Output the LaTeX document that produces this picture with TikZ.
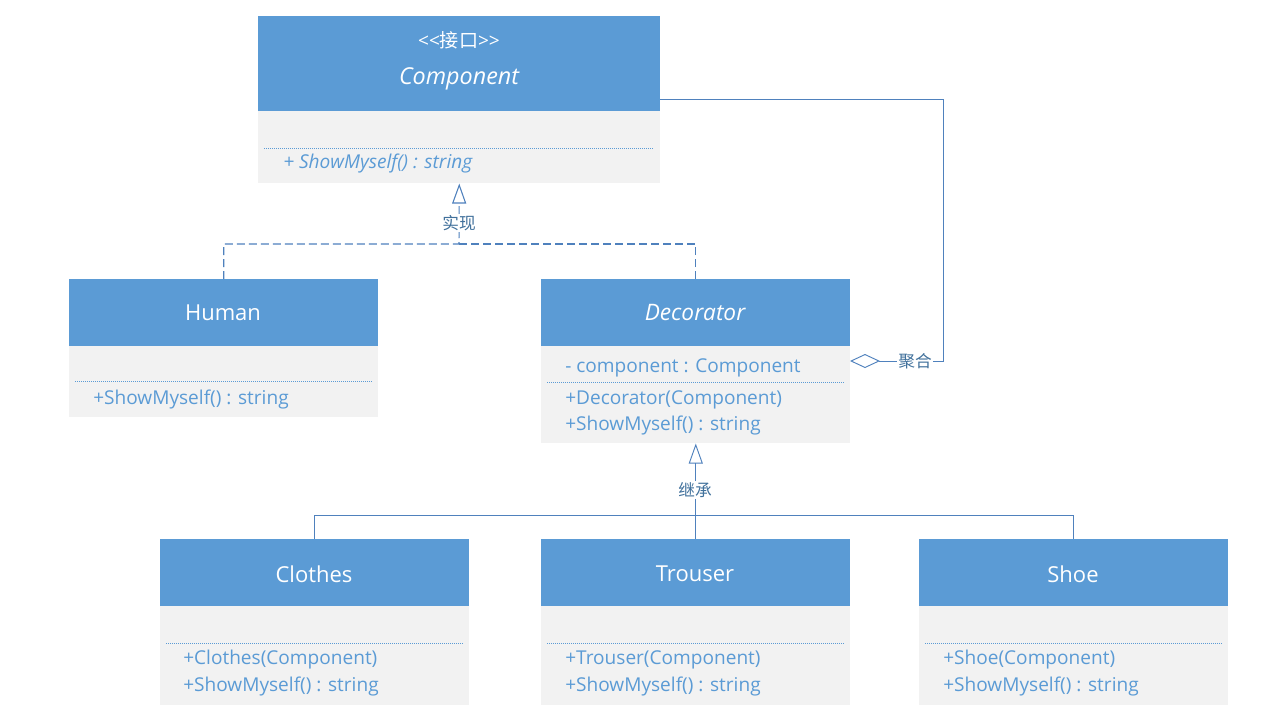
\documentclass[tikz,border=0pt]{standalone}
\usepackage{fontspec}
\setmainfont{Open Sans}
\newfontfamily\cjk{Noto Sans CJK SC}
\usetikzlibrary{arrows.meta}
\definecolor{hdr}{HTML}{5B9BD5}
\definecolor{bdy}{HTML}{F2F2F2}
\definecolor{ln}{HTML}{4F81BD}
\definecolor{lbl}{HTML}{41719C}
\tikzset{
  hdrbox/.style={fill=hdr, draw=none, text=white, anchor=north west, inner sep=0pt},
  bodybox/.style={fill=bdy, draw=none, anchor=north west, inner sep=0pt},
  htext/.style={text=white, inner sep=0pt, font=\fontsize{16.5}{19}\selectfont},
  mtext/.style={anchor=base west, inner sep=0pt, text=hdr, font=\fontsize{14.3}{17}\selectfont},
  dotline/.style={draw=hdr, densely dotted, line width=0.5pt},
  conn/.style={draw=ln, line width=0.7pt},
  dsh/.style={line width=0.8pt, dash pattern=on 6pt off 3pt},
  lab/.style={fill=white, text=lbl, inner sep=1pt, font=\cjk\fontsize{12.5}{14}\selectfont},
  inh/.style={-{Triangle[open, width=10.5pt, length=15pt]}},
}
\begin{document}
\begin{tikzpicture}[x=0.75pt,y=-0.75pt]
\useasboundingbox (0,0) rectangle (1263,726);
\fill[white] (0,0) rectangle (1263,726);

% Component
\node[hdrbox, minimum width=301.5pt, minimum height=71.25pt] (ch) at (258,16) {};
\node[bodybox, minimum width=301.5pt, minimum height=54pt] (cb) at (258,111) {};
\node[text=white, inner sep=0pt, font=\fontsize{14.3}{17}\selectfont] (cst) at (459,40) {{<}{<}{\cjk 接口}{>}{>}};
\node[htext, font=\fontsize{17.5}{20}\selectfont\itshape] (cnm) at (459,79) {Component};
\draw[dotline] (264,148) -- (654,148);
\node[mtext, font=\fontsize{14.3}{17}\selectfont\itshape] (ct1) at (283,168) {+ ShowMyself() : string};

% Human
\node[hdrbox, minimum width=231.75pt, minimum height=50.25pt] (hh) at (69,279) {};
\node[htext] (hnm) at (223,313) {Human};
\node[bodybox, minimum width=231.75pt, minimum height=53.25pt] (hb) at (69,346) {};
\draw[dotline] (75,381) -- (372,381);
\node[mtext] (ht1) at (93,404) {+ShowMyself() : string};

% Decorator
\node[hdrbox, minimum width=231.75pt, minimum height=50.25pt] (dh) at (541,279) {};
\node[htext, font=\fontsize{17}{20}\selectfont\itshape] (dnm) at (695,313) {Decorator};
\node[bodybox, minimum width=231.75pt, minimum height=72.75pt] (db) at (541,346) {};
\node[mtext] (dt0) at (565,372) {- component : Component};
\draw[dotline] (547,382) -- (844,382);
\node[mtext] (dt1) at (565,404) {+Decorator(Component)};
\node[mtext] (dt2) at (565,430) {+ShowMyself() : string};

% Clothes
\node[hdrbox, minimum width=231.75pt, minimum height=50.25pt] (clh) at (160,539) {};
\node[htext] (clnm) at (314,574) {Clothes};
\node[bodybox, minimum width=231.75pt, minimum height=74.25pt] (clb) at (160,606) {};
\draw[dotline] (166,643) -- (463,643);
\node[mtext] (clt1) at (183,664) {+Clothes(Component)};
\node[mtext] (clt2) at (183,691) {+ShowMyself() : string};

% Trouser
\node[hdrbox, minimum width=231.75pt, minimum height=50.25pt] (trh) at (541,539) {};
\node[htext] (trnm) at (695,574) {Trouser};
\node[bodybox, minimum width=231.75pt, minimum height=74.25pt] (trb) at (541,606) {};
\draw[dotline] (547,643) -- (844,643);
\node[mtext] (trt1) at (565,664) {+Trouser(Component)};
\node[mtext] (trt2) at (565,691) {+ShowMyself() : string};

% Shoe
\node[hdrbox, minimum width=231.75pt, minimum height=50.25pt] (shh) at (919,539) {};
\node[htext] (shnm) at (1073,574) {Shoe};
\node[bodybox, minimum width=231.75pt, minimum height=74.25pt] (shb) at (919,606) {};
\draw[dotline] (925,643) -- (1222,643);
\node[mtext] (sht1) at (943,664) {+Shoe(Component)};
\node[mtext] (sht2) at (943,691) {+ShowMyself() : string};

% realization
\coordinate (rj) at (459,244);
\draw[conn, dsh, inh] (hh.north) |- (rj) -- (cb.south);
\draw[conn, dsh] (dh.north) |- (rj);
\node[lab] (rl) at (459,223) {实现};

% inheritance
\coordinate (ij) at (695,515);
\draw[conn, inh] (trh.north) -- (db.south);
\draw[conn] (clh.north) |- (ij) -| (shh.north);
\node[lab] (il) at (695,490) {继承};

% aggregation
\coordinate (aS) at (850,361);
\coordinate (aC) at (943,361);
\coordinate (aE) at (660,99);
\draw[conn, {Diamond[open, width=10.5pt, length=22.5pt]}-] (aS) -- (aC) |- (aE);
\node[lab] (al) at (915,361) {聚合};
\end{tikzpicture}
\end{document}
